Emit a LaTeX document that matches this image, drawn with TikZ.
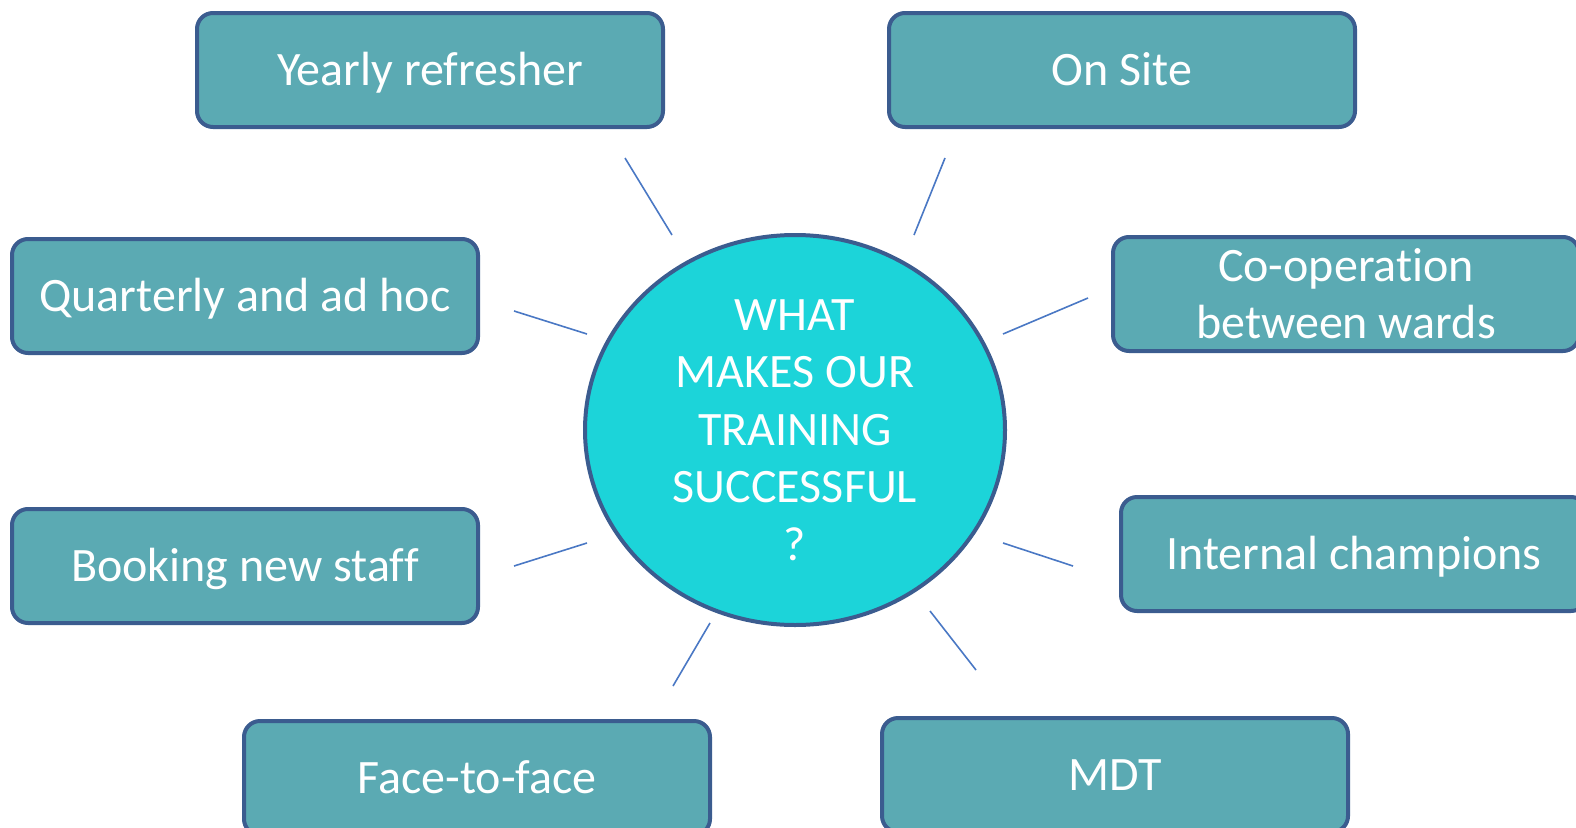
\documentclass[tikz,border=0pt]{standalone}
\usepackage{fontspec}
\setmainfont{Carlito}[Ligatures={NoCommon,NoRare}]
\usepackage{xcolor}

\definecolor{boxfill}{HTML}{5BAAB3}
\definecolor{hubfill}{HTML}{1CD4D9}
\definecolor{edgeblue}{HTML}{3B5C8F}
\definecolor{spokeblue}{HTML}{4A78C4}

\tikzset{
	topic/.style={draw=edgeblue, line width=4pt, fill=boxfill, rounded corners=16pt,
		minimum width=466pt, minimum height=114pt, align=center, text=white,
		font=\fontsize{48}{57}\selectfont, inner sep=0pt},
	oneline/.style={text height=34pt, text depth=4pt},
	hubnode/.style={draw=edgeblue, line width=4pt, fill=hubfill, ellipse,
		minimum width=420pt, minimum height=390pt, align=center, text=white,
		font=\fontsize{48}{57.5}\selectfont, inner sep=0pt},
	spoke/.style={draw=spokeblue, line width=1.6pt}
}
\usetikzlibrary{shapes.geometric}

\begin{document}
\begin{tikzpicture}[x=1pt, y=-1pt]
		% Page frame
		\useasboundingbox (0,0) rectangle (1576,827);
		\clip (0,0) rectangle (1576,827);

		% Centre question
		\node[hubnode] (hub) at (795,430) {WHAT\\MAKES OUR\\TRAINING\\SUCCESSFUL\\?};

		% Boxes around it
		\node[topic, oneline] (yearly) at (430,70) {Yearly refresher};
		\node[topic, oneline] (onsite) at (1122,70) {On Site};
		\node[topic, oneline] (quarterly) at (245,296) {Quarterly and ad hoc};
		\node[topic] (cooperation) at (1346,294) {Co-operation\\between wards};
		\node[topic, oneline] (booking) at (245,566) {Booking new staff};
		\node[topic, oneline] (champions) at (1354,554) {Internal champions};
		\node[topic, oneline] (facetoface) at (477,778) {Face-to-face};
		\node[topic, oneline] (mdt) at (1115,775) {MDT};

		% Short spokes between the hub and the boxes
		\foreach \ax/\ay/\bx/\by in {625/158/672/235, 945/158/914/235,
			514/311/587/334, 1088/298/1003/334, 514/566/587/543,
			1003/543/1073/566, 710/623/673/686, 930/611/976/670}
			\draw[spoke] (\ax,\ay) -- (\bx,\by);
	\end{tikzpicture}
\end{document}
